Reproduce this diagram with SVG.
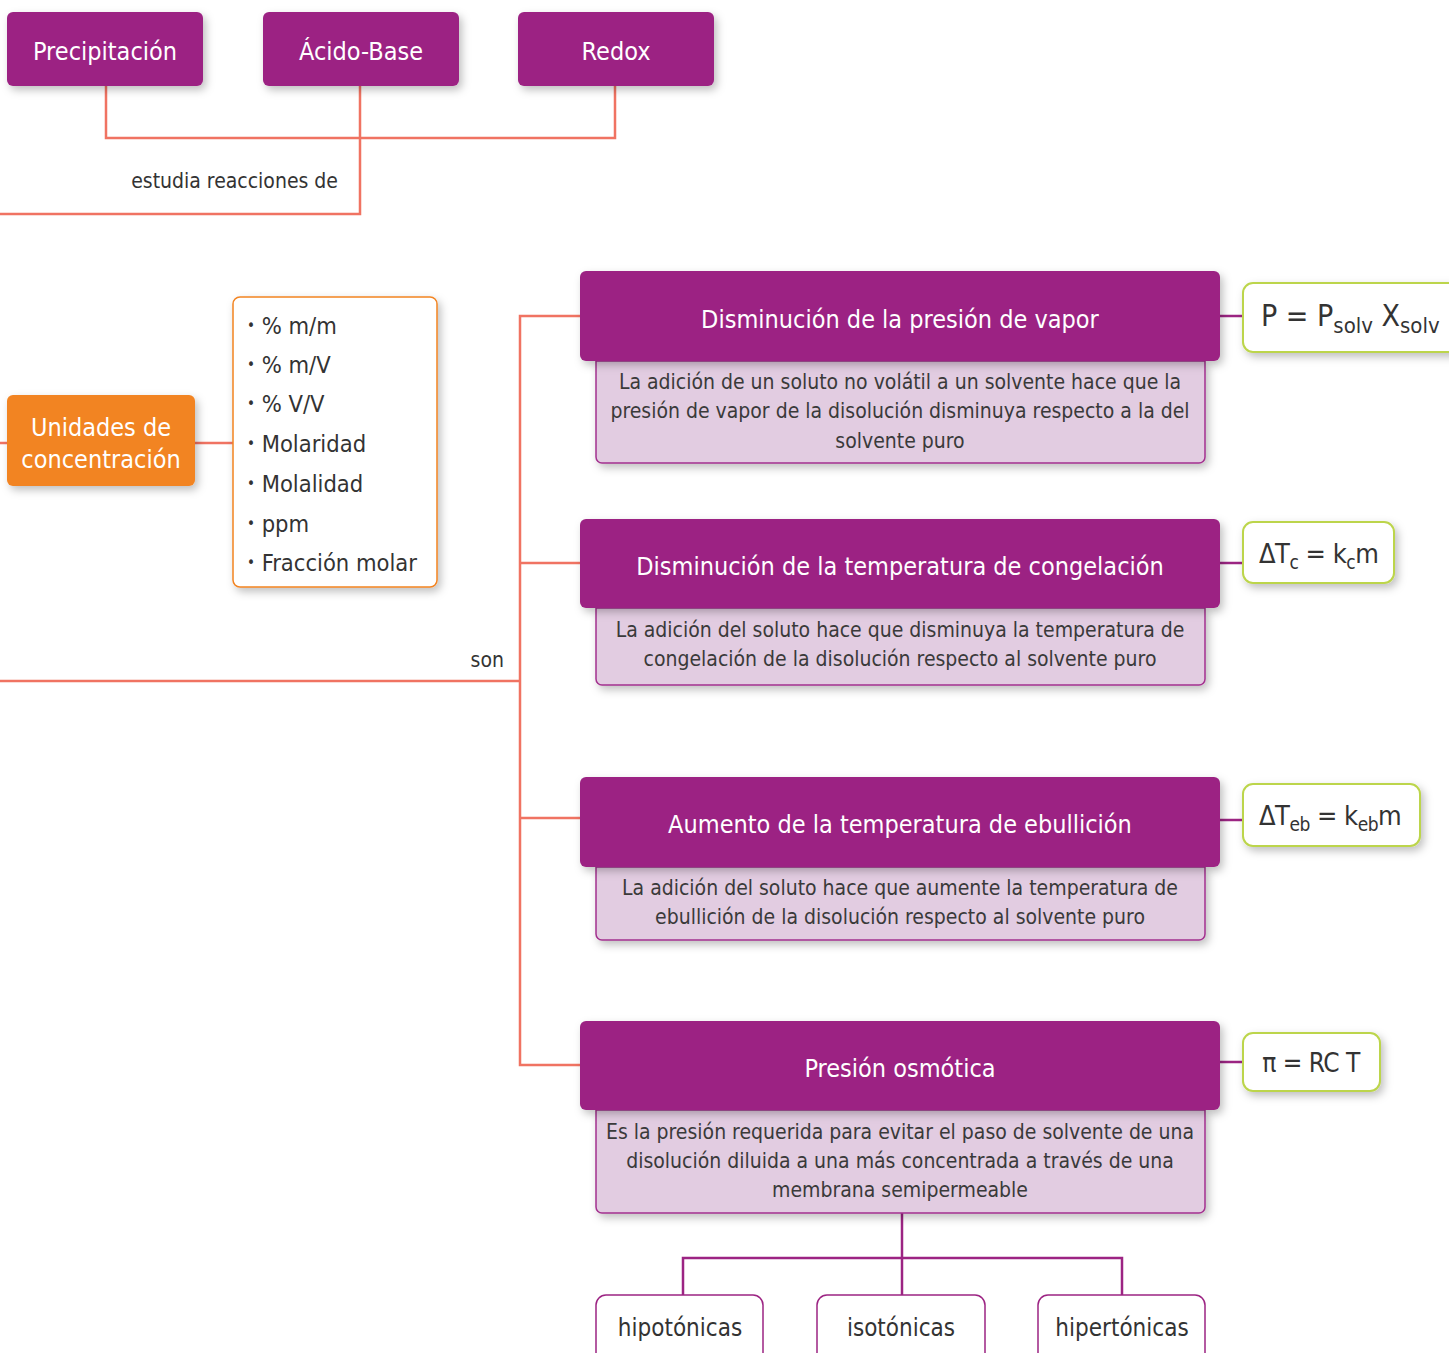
<svg xmlns="http://www.w3.org/2000/svg" width="1449" height="1353" viewBox="0 0 1449 1353">
<defs>
<filter id="sh" x="-10%" y="-20%" width="130%" height="160%">
<feDropShadow dx="3" dy="4" stdDeviation="4" flood-color="#000" flood-opacity="0.25"/>
</filter>
<style>
text{font-family:"Liberation Sans Narrow","DejaVu Sans Condensed","Liberation Sans",sans-serif;}
.hd{fill:#9C2483;}
.wt{fill:#fff;font-size:25px;text-anchor:middle;}
.ds{fill:#E2CCE1;stroke:#A3308E;stroke-width:1.5;}
.dt{fill:#3a3a3a;font-size:21px;text-anchor:middle;}
.fm{fill:#fff;stroke:#BCD54B;stroke-width:2;}
.ft{fill:#333;font-size:27px;letter-spacing:-0.5px;}
.lb{fill:#333;font-size:21px;}
.li{fill:#333;font-size:23.5px;}
.bu{font-size:15px;}
.ln{fill:none;stroke:#F07362;stroke-width:2.5;}
.pl{fill:none;stroke:#9C2483;stroke-width:2.5;}
.bt{fill:#fff;stroke:#9C2483;stroke-width:1.5;}
.bx{fill:#333;font-size:24px;text-anchor:middle;}
</style>
</defs>
<rect width="1449" height="1353" fill="#fff"/>
<g id="connectors">
<polyline class="ln" points="106,86 106,138 615,138 615,86"/>
<polyline class="ln" points="360,86 360,214 0,214"/>
<line class="ln" x1="0" y1="443" x2="8" y2="443"/>
<line class="ln" x1="195" y1="443" x2="233" y2="443"/>
<polyline class="ln" points="0,681 520,681"/>
<polyline class="ln" points="580,316 520,316 520,1065 580,1065"/>
<line class="ln" x1="520" y1="563" x2="580" y2="563"/>
<line class="ln" x1="520" y1="818" x2="580" y2="818"/>
<line class="pl" x1="1220" y1="316" x2="1243" y2="316"/>
<line class="pl" x1="1220" y1="563" x2="1243" y2="563"/>
<line class="pl" x1="1220" y1="820" x2="1243" y2="820"/>
<line class="pl" x1="1220" y1="1062" x2="1243" y2="1062"/>
<polyline class="pl" points="902,1213 902,1295"/>
<polyline class="pl" points="683,1295 683,1258 1122,1258 1122,1295"/>
<text class="lb" x="338" y="188" text-anchor="end">estudia reacciones de</text>
<text class="lb" x="504" y="667" text-anchor="end">son</text>
</g>
<g id="precipitacion"><rect class="hd" x="7" y="12" width="196" height="74" rx="6" filter="url(#sh)"/><text class="wt" x="105" y="60">Precipitación</text></g>
<g id="acido-base"><rect class="hd" x="263" y="12" width="196" height="74" rx="6" filter="url(#sh)"/><text class="wt" x="361" y="60">Ácido-Base</text></g>
<g id="redox"><rect class="hd" x="518" y="12" width="196" height="74" rx="6" filter="url(#sh)"/><text class="wt" x="616" y="60">Redox</text></g>
<g id="unidades"><rect x="7" y="395" width="188" height="91" rx="6" fill="#F28421" filter="url(#sh)"/><text class="wt" x="101" y="436">Unidades de</text><text class="wt" x="101" y="468">concentración</text></g>
<g id="lista"><rect x="233" y="297" width="204" height="290" rx="7" fill="#fff" stroke="#F28421" stroke-width="1.5" filter="url(#sh)"/>
<text class="li" x="247" y="334"><tspan class="bu" dy="-3">•</tspan><tspan dy="3"> % m/m</tspan></text>
<text class="li" x="247" y="373"><tspan class="bu" dy="-3">•</tspan><tspan dy="3"> % m/V</tspan></text>
<text class="li" x="247" y="412"><tspan class="bu" dy="-3">•</tspan><tspan dy="3"> % V/V</tspan></text>
<text class="li" x="247" y="452"><tspan class="bu" dy="-3">•</tspan><tspan dy="3"> Molaridad</tspan></text>
<text class="li" x="247" y="492"><tspan class="bu" dy="-3">•</tspan><tspan dy="3"> Molalidad</tspan></text>
<text class="li" x="247" y="532"><tspan class="bu" dy="-3">•</tspan><tspan dy="3"> ppm</tspan></text>
<text class="li" x="247" y="571"><tspan class="bu" dy="-3">•</tspan><tspan dy="3"> Fracción molar</tspan></text>
</g>
<g id="presion-vapor">
<path class="ds" d="M596,361 H1205 V457 a6,6 0 0 1 -6,6 H602 a6,6 0 0 1 -6,-6 Z" filter="url(#sh)"/>
<rect class="hd" x="580" y="271" width="640" height="90" rx="6" filter="url(#sh)"/>
<text class="wt" x="900" y="328">Disminución de la presión de vapor</text>
<text class="dt" x="900" y="389">La adición de un soluto no volátil a un solvente hace que la</text>
<text class="dt" x="900" y="418">presión de vapor de la disolución disminuya respecto a la del</text>
<text class="dt" x="900" y="448">solvente puro</text>
</g>
<g id="congelacion">
<path class="ds" d="M596,608 H1205 V679 a6,6 0 0 1 -6,6 H602 a6,6 0 0 1 -6,-6 Z" filter="url(#sh)"/>
<rect class="hd" x="580" y="519" width="640" height="89" rx="6" filter="url(#sh)"/>
<text class="wt" x="900" y="575">Disminución de la temperatura de congelación</text>
<text class="dt" x="900" y="637">La adición del soluto hace que disminuya la temperatura de</text>
<text class="dt" x="900" y="666">congelación de la disolución respecto al solvente puro</text>
</g>
<g id="ebullicion">
<path class="ds" d="M596,867 H1205 V934 a6,6 0 0 1 -6,6 H602 a6,6 0 0 1 -6,-6 Z" filter="url(#sh)"/>
<rect class="hd" x="580" y="777" width="640" height="90" rx="6" filter="url(#sh)"/>
<text class="wt" x="900" y="833">Aumento de la temperatura de ebullición</text>
<text class="dt" x="900" y="895">La adición del soluto hace que aumente la temperatura de</text>
<text class="dt" x="900" y="924">ebullición de la disolución respecto al solvente puro</text>
</g>
<g id="osmotica">
<path class="ds" d="M596,1110 H1205 V1207 a6,6 0 0 1 -6,6 H602 a6,6 0 0 1 -6,-6 Z" filter="url(#sh)"/>
<rect class="hd" x="580" y="1021" width="640" height="89" rx="6" filter="url(#sh)"/>
<text class="wt" x="900" y="1077">Presión osmótica</text>
<text class="dt" x="900" y="1139">Es la presión requerida para evitar el paso de solvente de una</text>
<text class="dt" x="900" y="1168">disolución diluida a una más concentrada a través de una</text>
<text class="dt" x="900" y="1197">membrana semipermeable</text>
</g>
<g id="f1"><rect class="fm" x="1243" y="283" width="220" height="69" rx="10" filter="url(#sh)"/><text class="ft" x="1261" y="326" style="font-size:30px;letter-spacing:0">P = P<tspan font-size="22" dy="7">solv</tspan><tspan dy="-7"> X</tspan><tspan font-size="22" dy="7">solv</tspan></text></g>
<g id="f2"><rect class="fm" x="1243" y="522" width="151" height="61" rx="10" filter="url(#sh)"/><text class="ft" x="1259" y="563">ΔT<tspan font-size="19" dy="6">c</tspan><tspan dy="-6"> = k</tspan><tspan font-size="19" dy="6">c</tspan><tspan dy="-6">m</tspan></text></g>
<g id="f3"><rect class="fm" x="1243" y="784" width="177" height="62" rx="10" filter="url(#sh)"/><text class="ft" x="1259" y="825">ΔT<tspan font-size="19" dy="6">eb</tspan><tspan dy="-6"> = k</tspan><tspan font-size="19" dy="6">eb</tspan><tspan dy="-6">m</tspan></text></g>
<g id="f4"><rect class="fm" x="1243" y="1033" width="137" height="58" rx="10" filter="url(#sh)"/><text class="ft" x="1311" y="1072" text-anchor="middle" style="font-size:26px">π = RC T</text></g>
<g id="hipotonicas"><rect class="bt" x="596" y="1295" width="167" height="70" rx="10"/><text class="bx" x="680" y="1336">hipotónicas</text></g>
<g id="isotonicas"><rect class="bt" x="817" y="1295" width="168" height="70" rx="10"/><text class="bx" x="901" y="1336">isotónicas</text></g>
<g id="hipertonicas"><rect class="bt" x="1038" y="1295" width="167" height="70" rx="10"/><text class="bx" x="1122" y="1336">hipertónicas</text></g>
</svg>
